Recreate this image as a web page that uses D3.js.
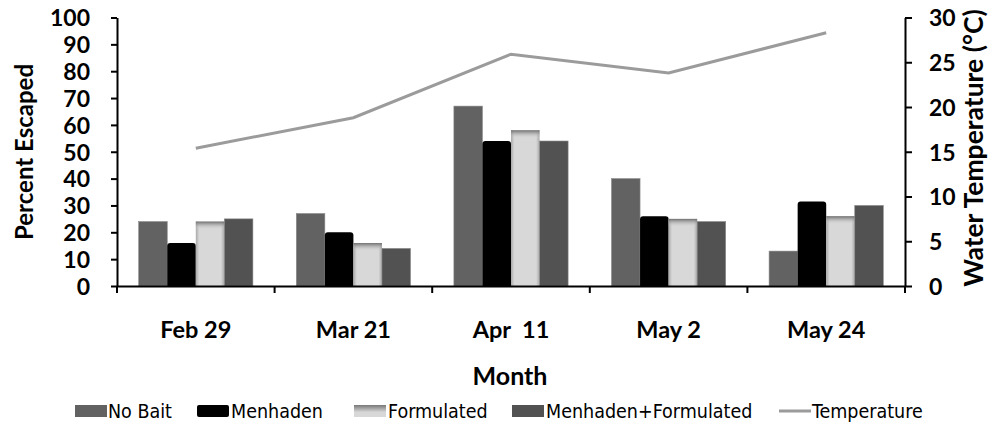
<!DOCTYPE html>
<html><head><meta charset="utf-8">
<script src="https://cdn.jsdelivr.net/npm/d3@7"></script>
<style>
body{margin:0;background:#fff;}
svg text{font-family:Lato,"Open Sans",sans-serif;}
</style></head>
<body><svg id="c" width="992" height="425"></svg>
<script>
const months = ["Feb 29","Mar 21","Apr  11","May 2","May 24"];
const seriesNames = ["No Bait","Menhaden","Formulated","Menhaden+Formulated"];
const noBait = [24,27,67,40,13];
const menhaden = [16,20,54,26,31.5];
const formulated = [24,16,58,25,26];
const menForm = [25,14,54,24,30];
const temperature = [15.4,18.8,25.9,23.8,28.3];
const leftTicks = [0,10,20,30,40,50,60,70,80,90,100];
const rightTicks = [0,5,10,15,20,25,30];

const svg = d3.select("#c");
const L=117, R=905, T=17.5, B=286;
const x = d3.scaleBand().domain(months).range([L,R]).padding(0);
const x1 = d3.scaleBand().domain(seriesNames).range([0,x.bandwidth()]).paddingInner(0).paddingOuter(0.76);
const y = d3.scaleLinear().domain([0,100]).range([B,T]);
const y2 = d3.scaleLinear().domain([0,30]).range([B,T]);
const values = [noBait,menhaden,formulated,menForm];
const colors = ["#626262","#000000","url(#gForm)","#525252"];

const defs = svg.append("defs");
const gf = defs.append("linearGradient").attr("id","gForm").attr("x1",0).attr("x2",1).attr("y1",0).attr("y2",0);
gf.append("stop").attr("offset","0").attr("stop-color","#a9a9a9");
gf.append("stop").attr("offset","0.12").attr("stop-color","#d8d8d8");
gf.append("stop").attr("offset","0.88").attr("stop-color","#d8d8d8");
gf.append("stop").attr("offset","1").attr("stop-color","#a9a9a9");
const gt = defs.append("linearGradient").attr("id","gTop").attr("x1",0).attr("x2",0).attr("y1",0).attr("y2",1);
gt.append("stop").attr("offset","0").attr("stop-color","#6e6e6e");
gt.append("stop").attr("offset","1").attr("stop-color","#d8d8d8").attr("stop-opacity",0);
const gl = defs.append("linearGradient").attr("id","gLeg").attr("x1",0).attr("x2",0).attr("y1",0).attr("y2",1);
gl.append("stop").attr("offset","0").attr("stop-color","#777");
gl.append("stop").attr("offset","0.6").attr("stop-color","#d8d8d8");
gl.append("stop").attr("offset","1").attr("stop-color","#d8d8d8");

// bars
seriesNames.forEach((s,si)=>{
  const g = svg.append("g");
  months.forEach((m,mi)=>{
    const v = values[si][mi];
    const bx = x(m)+x1(s), bw = x1.bandwidth(), by = y(v), bh = B-by;
    if(si===1){
      const r=3, p=d3.path();
      p.moveTo(bx,B); p.lineTo(bx,by+r); p.quadraticCurveTo(bx,by,bx+r,by);
      p.lineTo(bx+bw-r,by); p.quadraticCurveTo(bx+bw,by,bx+bw,by+r); p.lineTo(bx+bw,B); p.closePath();
      g.append("path").attr("d",p.toString()).attr("fill","#000");
    } else {
      g.append("rect").attr("x",bx).attr("y",by).attr("width",bw).attr("height",bh)
        .attr("fill",colors[si]).attr("stroke",si===2?"none":"#8a8a8a").attr("stroke-width",0.6);
      if(si===2){
        g.append("rect").attr("x",bx).attr("y",by).attr("width",bw).attr("height",Math.min(8,bh)).attr("fill","url(#gTop)");
      }
    }
  });
});

// temperature line
svg.append("path").datum(temperature)
  .attr("d",d3.line().x((d,i)=>x(months[i])+x.bandwidth()/2).y(d=>y2(d)))
  .attr("fill","none").attr("stroke","#9b9b9b").attr("stroke-width",3);

// axes
const ax = svg.append("g").attr("transform",`translate(${L},0)`)
  .call(d3.axisLeft(y).tickValues(leftTicks).tickSize(6).tickSizeOuter(0));
const ax2 = svg.append("g").attr("transform",`translate(${R},0)`)
  .call(d3.axisRight(y2).tickValues(rightTicks).tickSize(7).tickSizeOuter(0));
const xb = svg.append("g").attr("transform",`translate(0,${B})`)
  .call(d3.axisBottom(x).tickSize(0).tickSizeOuter(0).tickFormat(""));
[ax,ax2,xb].forEach(a=>{
  a.select(".domain").attr("stroke","#000").attr("stroke-width",2);
  a.selectAll(".tick line").attr("stroke","#000").attr("stroke-width",2);
});
ax.selectAll(".tick text").attr("font-size",23).attr("font-weight","bold").attr("fill","#000").attr("x",-27).attr("dy","0.36em");
ax2.selectAll(".tick text").attr("font-size",23).attr("font-weight","bold").attr("fill","#000").attr("x",24).attr("dy","0.36em");
// bottom boundary ticks
const bounds = months.map(m=>x(m)).concat([R]);
svg.append("g").selectAll("line").data(bounds).join("line")
  .attr("x1",d=>d).attr("x2",d=>d).attr("y1",B).attr("y2",B+7).attr("stroke","#000").attr("stroke-width",2);

// category labels
svg.append("g").selectAll("text").data(months).join("text")
  .attr("x",d=>x(d)+x.bandwidth()/2).attr("y",338).attr("text-anchor","middle")
  .attr("font-size",23.5).attr("font-weight","bold").attr("xml:space","preserve").style("white-space","pre").text(d=>d);

// axis titles
svg.append("text").attr("x",510).attr("y",385).attr("text-anchor","middle").attr("font-size",25).attr("font-weight","bold").text("Month");
svg.append("text").attr("transform","translate(33,152) rotate(-90)").attr("text-anchor","middle").attr("font-size",24).attr("font-weight","bold").text("Percent Escaped");
svg.append("text").attr("transform","translate(983,148) rotate(-90)").attr("text-anchor","middle").attr("font-size",26.5).attr("font-weight","bold").text("Water Temperature (°C)");

// legend
const legItems = [
  {name:"No Bait", type:"rect", fill:"#626262", sx:75, tx:108},
  {name:"Menhaden", type:"rect", fill:"#000", sx:197, tx:231},
  {name:"Formulated", type:"rect", fill:"url(#gLeg)", sx:354, tx:388},
  {name:"Menhaden+Formulated", type:"rect", fill:"#525252", sx:512, tx:546},
  {name:"Temperature", type:"line", fill:"#9b9b9b", sx:779, tx:812}
];
const lg = svg.append("g");
legItems.forEach(it=>{
  if(it.type==="rect") lg.append("rect").attr("x",it.sx).attr("y",405).attr("width",32).attr("height",12).attr("rx",it.name==="Menhaden"?2:0).attr("fill",it.fill);
  else lg.append("line").attr("x1",it.sx).attr("x2",it.sx+32).attr("y1",411).attr("y2",411).attr("stroke",it.fill).attr("stroke-width",3);
  lg.append("text").attr("x",it.tx).attr("y",418).attr("font-size",19.5)
    .style("font-family","'Liberation Sans Narrow','DejaVu Sans Condensed',sans-serif").style("font-stretch","condensed").text(it.name);
});
</script></body></html>
